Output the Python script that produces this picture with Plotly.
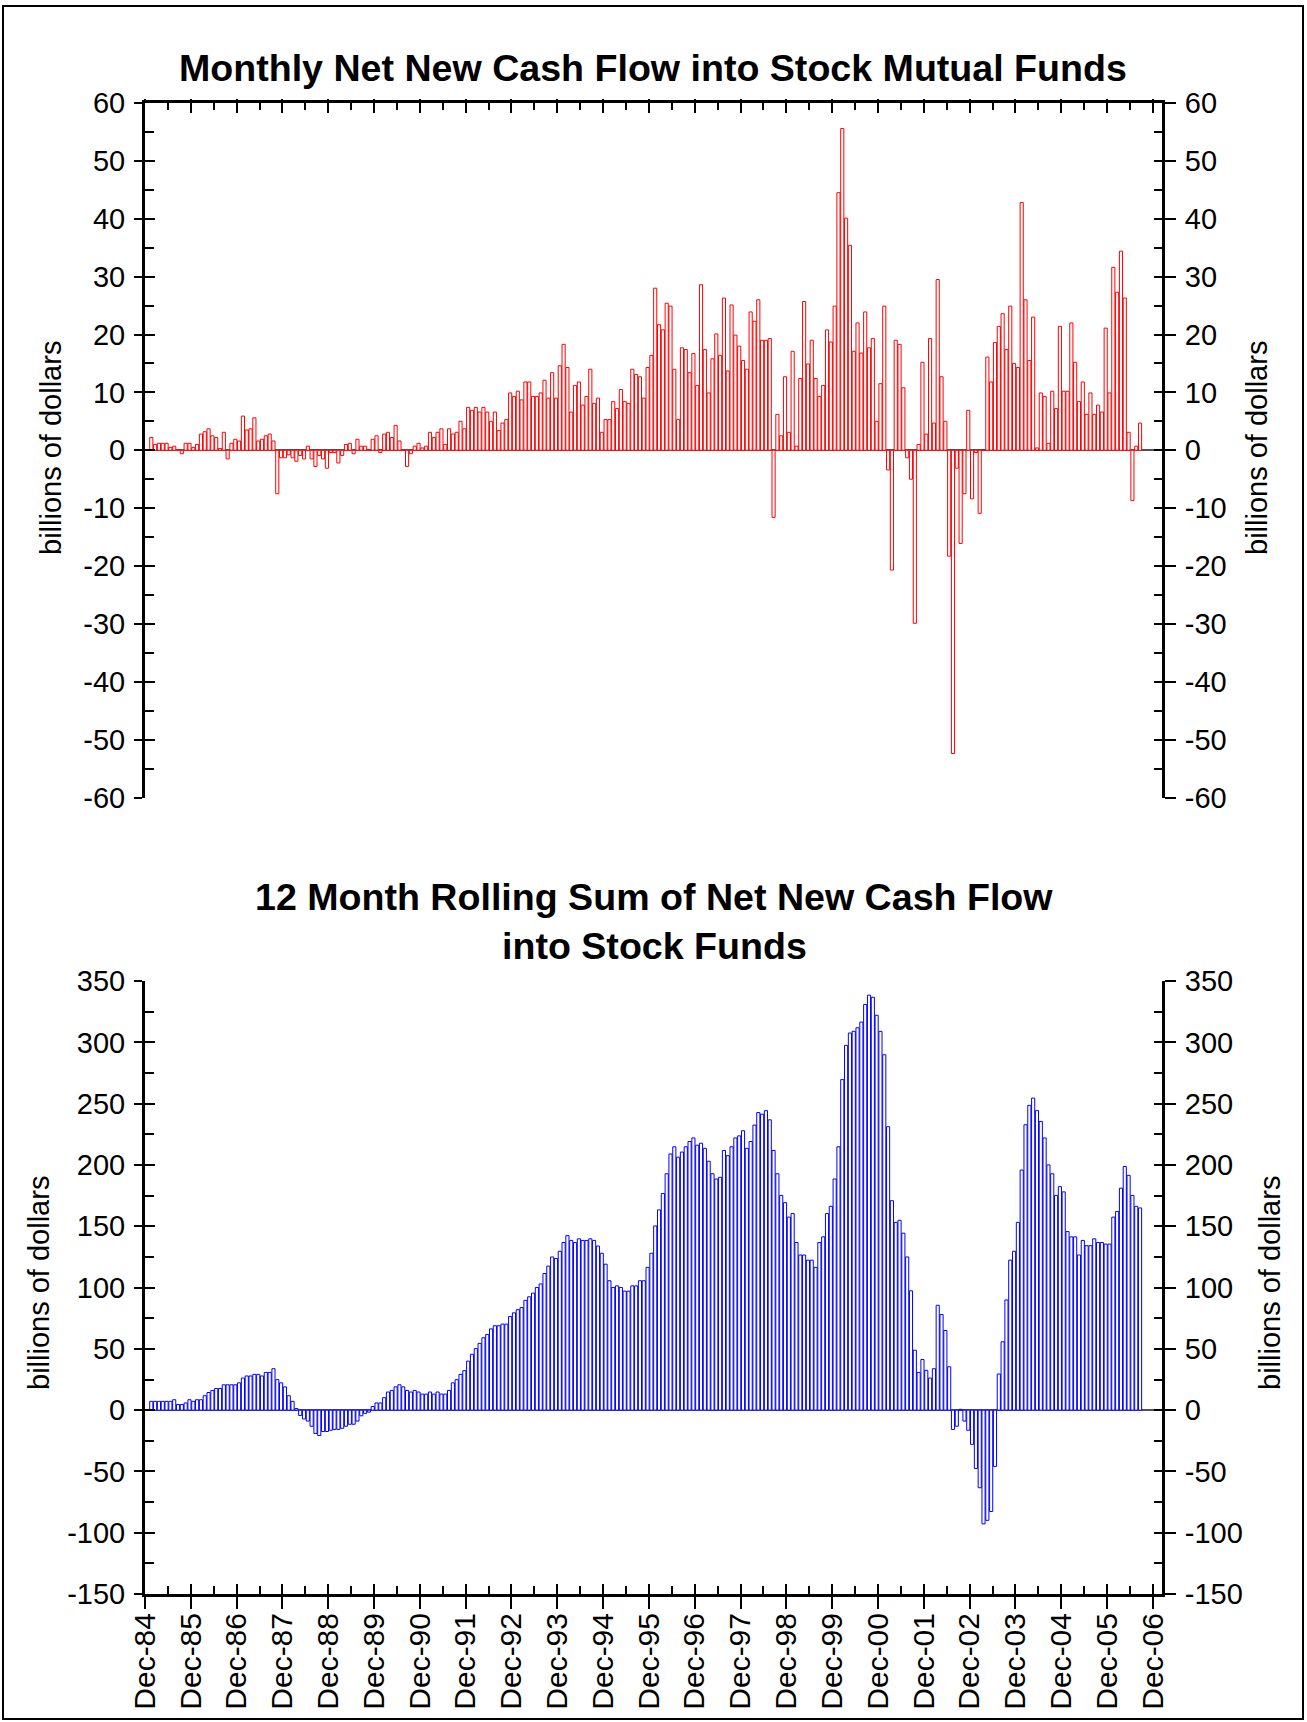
import plotly.graph_objects as go
import pandas as pd

# ---------------- data (billions of dollars), Jan-85 .. Aug-06 ----------------
months = pd.period_range("1985-01", "2006-08", freq="M")

monthly_flow = [
    2.2, 1.0, 1.2, 1.2, 1.2, 0.5, 0.7, 0.1, -0.6, 1.2,
    1.2, 0.5, 1.0, 2.8, 3.2, 3.7, 2.5, 2.2, 0.3, 3.1,
    -1.5, 1.2, 1.9, 1.6, 5.9, 3.5, 3.7, 5.6, 1.6, 1.9,
    2.5, 2.8, 1.6, -7.5, -1.3, -1.3, -0.8, -1.3, -1.9, -0.9,
    -1.5, 0.7, -1.5, -2.8, -0.9, -1.5, -3.1, -0.4, -0.4, -2.2,
    -0.9, 1.0, 1.2, -0.6, 1.9, 0.7, 0.7, 0.1, 1.9, 2.5,
    -0.4, 2.8, 3.1, 2.2, 4.3, 1.6, 0.1, -2.8, -0.6, 0.7,
    1.2, 0.4, 0.7, 3.1, 2.2, 3.1, 3.7, 1.0, 3.7, 2.8,
    3.1, 5.0, 3.7, 7.4, 6.9, 7.4, 6.6, 7.4, 6.6, 5.0,
    6.6, 3.4, 4.7, 5.3, 9.9, 9.3, 10.2, 8.7, 11.8, 11.8,
    9.3, 9.3, 9.9, 12.1, 9.0, 13.4, 9.0, 14.6, 18.3, 14.3,
    6.6, 11.2, 11.8, 7.8, 9.3, 14.0, 8.1, 9.0, 3.1, 5.3,
    5.3, 8.4, 7.2, 10.5, 8.4, 8.1, 14.0, 13.1, 12.7, 9.0,
    14.3, 16.4, 28.0, 21.7, 20.8, 25.4, 24.9, 14.0, 5.3, 17.7,
    17.4, 13.4, 16.7, 11.2, 28.6, 17.4, 9.9, 15.8, 20.1, 16.4,
    26.3, 13.7, 25.1, 19.9, 18.0, 15.5, 14.0, 23.9, 22.3, 26.0,
    19.0, 19.0, 19.3, -11.6, 6.2, 2.5, 12.7, 3.1, 17.1, 0.7,
    12.4, 25.7, 14.9, 19.0, 12.4, 9.3, 11.2, 20.8, 18.7, 24.9,
    44.5, 55.6, 40.1, 35.4, 17.1, 22.0, 16.8, 23.9, 17.7, 19.3,
    5.0, 11.5, 24.9, -3.4, -20.7, 19.0, 18.3, 10.8, -1.3, -5.0,
    -29.9, 1.0, 15.2, 2.8, 19.3, 4.7, 29.5, 12.7, 5.0, -18.3,
    -52.4, -3.1, -16.1, -7.5, 6.9, -8.4, -0.4, -10.9, 0.0, 16.1,
    11.8, 18.6, 21.4, 23.6, 17.4, 24.9, 15.0, 14.3, 42.8, 26.0,
    15.5, 23.0, 0.4, 9.9, 9.3, 1.2, 10.2, 7.2, 21.4, 10.2,
    10.2, 22.0, 15.2, 8.4, 11.8, 6.2, 9.9, 6.2, 7.8, 6.6,
    21.1, 9.9, 31.6, 27.3, 34.4, 26.3, 3.1, -8.7, 0.7, 4.7,
]

rolling_12m = [
    7.2, 7.2, 7.2, 7.2, 7.2, 7.2, 8.5, 4.6, 4.6, 5.9,
    8.5, 7.2, 8.5, 8.5, 11.8, 14.4, 16.1, 17.7, 17.7, 20.7,
    20.7, 20.7, 20.7, 22.3, 26.2, 27.9, 27.9, 29.2, 29.2, 27.9,
    30.8, 30.8, 33.8, 24.9, 22.3, 19.0, 11.8, 7.2, 1.3, -4.3,
    -7.2, -8.9, -13.1, -19.0, -20.7, -17.4, -17.4, -16.4, -15.7, -15.7,
    -14.8, -13.1, -11.5, -11.5, -8.9, -4.6, -2.6, -1.6, 3.0, 5.9,
    5.9, 10.2, 14.8, 16.1, 19.0, 20.7, 19.0, 16.1, 14.8, 16.1,
    14.8, 13.1, 13.1, 14.8, 13.1, 14.8, 13.1, 13.1, 16.1, 22.3,
    24.9, 29.2, 32.2, 40.0, 45.6, 50.2, 54.5, 59.1, 61.7, 66.3,
    68.9, 68.9, 70.2, 70.2, 76.4, 79.4, 82.0, 83.7, 89.6, 92.5,
    95.5, 100.1, 103.0, 111.5, 117.5, 125.0, 123.7, 129.6, 136.8, 142.4,
    138.5, 136.8, 139.8, 138.5, 138.5, 139.8, 138.5, 133.9, 128.0, 119.1,
    105.6, 100.1, 101.4, 100.1, 97.1, 97.1, 101.4, 101.4, 105.6, 105.6,
    116.5, 128.0, 150.3, 163.4, 176.8, 192.9, 209.0, 214.9, 206.4, 210.6,
    214.9, 219.2, 222.1, 216.2, 217.8, 213.6, 203.1, 192.9, 188.6, 190.0,
    211.9, 207.7, 214.9, 222.1, 223.8, 228.0, 213.6, 219.2, 232.6, 242.8,
    241.5, 244.4, 236.9, 211.9, 192.9, 175.2, 169.3, 157.5, 160.4, 136.8,
    126.6, 126.6, 122.4, 122.4, 116.5, 136.8, 141.4, 160.4, 166.3, 188.6,
    214.9, 269.7, 297.6, 307.7, 309.1, 312.0, 316.6, 331.0, 338.6, 336.9,
    322.2, 309.1, 290.0, 231.3, 170.9, 153.2, 154.9, 144.4, 125.0, 97.4,
    48.9, 30.8, 41.3, 32.5, 26.2, 33.8, 85.6, 78.1, 65.0, 35.4,
    -15.7, -13.1, 0.7, -8.9, -16.4, -27.9, -47.6, -63.3, -92.8, -89.9,
    -82.7, -45.9, 29.5, 55.8, 89.9, 122.4, 129.6, 153.2, 195.9, 232.9,
    248.7, 254.6, 244.4, 235.6, 222.1, 200.1, 192.9, 175.2, 182.4, 178.1,
    145.7, 141.4, 141.4, 126.6, 138.5, 134.2, 134.2, 139.8, 136.8, 136.8,
    135.5, 135.5, 157.5, 162.1, 181.1, 198.8, 191.6, 175.2, 166.3, 165.0,
]

tick_years = list(range(1984, 2007))
tick_labels = ["Dec-%02d" % (y % 100) for y in tick_years]

top_yticks = list(range(-60, 61, 10))
top_yminor = list(range(-55, 60, 10))
bot_yticks = list(range(-150, 351, 50))
bot_yminor = list(range(-125, 350, 50))

# ---------------- positions on a month axis (0 = Dec-84) ----------------
base = pd.Period("1984-12", freq="M")
xpos = [(m - base).n + 0.65 for m in months]
xmajor = [(pd.Period("%d-12" % y, freq="M") - base).n for y in tick_years]
xminor = [v + 6 for v in xmajor[:-1]]
XR = [0, 266.4]

FONT = "Liberation Sans, Arial, sans-serif"
W, H = 1307, 1722
ML, MR, MT, MB = 145, 145, 103, 128
PW, PH = W - ML - MR, H - MT - MB


def px_x(p):
    return (p - ML) / PW


def px_y(p):
    return (H - MB - p) / PH


top_dom = [px_y(797.5), 1.0]
bot_dom = [0.0, px_y(981.2)]

fig = go.Figure()
fig.add_trace(go.Bar(x=xpos, y=monthly_flow, width=0.82, xaxis="x", yaxis="y",
                     marker=dict(color="white", line=dict(color="#ff0000", width=1)),
                     showlegend=False, hoverinfo="x+y"))
fig.add_trace(go.Bar(x=xpos, y=rolling_12m, width=0.82, xaxis="x2", yaxis="y5",
                     marker=dict(color="white", line=dict(color="#0000ff", width=1)),
                     showlegend=False, hoverinfo="x+y"))

# invisible helpers so that the overlaid tick-only axes get drawn
for xa, ya in [("x", "y2"), ("x", "y3"), ("x", "y4"), ("x4", "y"),
               ("x2", "y6"), ("x2", "y7"), ("x2", "y8"), ("x3", "y5")]:
    fig.add_trace(go.Scatter(x=[XR[0]], y=[0], xaxis=xa, yaxis=ya, mode="markers",
                             marker=dict(opacity=0, size=1), showlegend=False,
                             hoverinfo="skip"))

tickfont = dict(family=FONT, size=29, color="black")
common = dict(showgrid=False, fixedrange=True, tickcolor="black", tickwidth=2)


def yax(dom, rng, tv, mn, side, kind, overlay=None, zero=False):
    d = dict(common, domain=dom, range=rng, side=side, tickmode="array", tickvals=tv,
             ticktext=[str(v) for v in tv],
             zeroline=zero, zerolinecolor="#505050", zerolinewidth=2)
    if overlay:
        d["overlaying"] = overlay
    if kind == "main":
        d.update(showline=True, linecolor="black", linewidth=3, ticks="outside",
                 ticklen=8 if side == "left" else 11, tickfont=tickfont,
                 ticklabelstandoff=3 if side == "left" else 3)
    else:
        d.update(showline=False, ticks="inside", ticklen=10 if side == "left" else 8,
                 showticklabels=False,
                 minor=dict(ticks="inside", ticklen=9 if side == "left" else 8,
                            tickwidth=2, tickcolor="black", tickmode="array", tickvals=mn))
    return d


layout = dict(
    width=W, height=H, margin=dict(l=ML, r=MR, t=MT, b=MB),
    paper_bgcolor="white", plot_bgcolor="white", barmode="overlay",
    font=dict(family=FONT, color="black"),
    # top chart x axis (at top)
    xaxis=dict(common, domain=[0, 1], range=XR, anchor="y", side="top", showline=True,
               linecolor="black", linewidth=3, ticks="inside", ticklen=10,
               tickmode="array", tickvals=xmajor, showticklabels=False, zeroline=False,
               minor=dict(ticks="inside", ticklen=7, tickwidth=2, tickcolor="black",
                          tickmode="array", tickvals=xminor)),
    xaxis4=dict(common, range=XR, anchor="y", side="top", overlaying="x", showline=False,
                ticks="outside", ticklen=3, tickmode="array", tickvals=xmajor,
                showticklabels=False, zeroline=False),
    # bottom chart x axis
    xaxis2=dict(common, domain=[0, 1], range=XR, anchor="y5", side="bottom", showline=True,
                linecolor="black", linewidth=3, ticks="outside", ticklen=12,
                tickmode="array", tickvals=xmajor, ticktext=tick_labels, tickangle=-90,
                ticklabelstandoff=-8,
                tickfont=dict(family=FONT, size=30, color="black"), zeroline=False),
    xaxis3=dict(common, range=XR, anchor="y5", side="bottom", overlaying="x2", showline=False,
                ticks="inside", ticklen=10, tickmode="array", tickvals=xmajor,
                showticklabels=False, zeroline=False,
                minor=dict(ticks="inside", ticklen=8, tickwidth=2, tickcolor="black",
                           tickmode="array", tickvals=xminor)),
    yaxis=yax(top_dom, [-60, 60], top_yticks, top_yminor, "left", "main", zero=True),
    yaxis3=yax(top_dom, [-60, 60], top_yticks, top_yminor, "left", "inner", overlay="y"),
    yaxis2=yax(top_dom, [-60, 60], top_yticks, top_yminor, "right", "main", overlay="y"),
    yaxis4=yax(top_dom, [-60, 60], top_yticks, top_yminor, "right", "inner", overlay="y"),
    yaxis5=yax(bot_dom, [-150, 350], bot_yticks, bot_yminor, "left", "main", zero=True),
    yaxis6=yax(bot_dom, [-150, 350], bot_yticks, bot_yminor, "left", "inner", overlay="y5"),
    yaxis7=yax(bot_dom, [-150, 350], bot_yticks, bot_yminor, "right", "main", overlay="y5"),
    yaxis8=yax(bot_dom, [-150, 350], bot_yticks, bot_yminor, "right", "inner", overlay="y5"),
)
for k in ["yaxis", "yaxis3", "yaxis2", "yaxis4"]:
    layout[k]["anchor"] = "x"
for k in ["yaxis5", "yaxis6", "yaxis7", "yaxis8"]:
    layout[k]["anchor"] = "x2"
fig.update_layout(**layout)

title_font = dict(family=FONT, size=37.6, color="black")
label_font = dict(family=FONT, size=29, color="black")
ann = [
    dict(text="<b>Monthly Net New Cash Flow into Stock Mutual Funds</b>", x=px_x(653), y=px_y(68),
         font=title_font),
    dict(text="<b>12 Month Rolling Sum of Net New Cash Flow</b>", x=px_x(654), y=px_y(897),
         font=title_font),
    dict(text="<b>into Stock Funds</b>", x=px_x(654), y=px_y(946), font=title_font),
    dict(text="billions of dollars", x=px_x(51), y=px_y(448), textangle=-90, font=label_font),
    dict(text="billions of dollars", x=px_x(1257), y=px_y(448), textangle=-90, font=label_font),
    dict(text="billions of dollars", x=px_x(39), y=px_y(1283), textangle=-90, font=label_font),
    dict(text="billions of dollars", x=px_x(1270), y=px_y(1283), textangle=-90, font=label_font),
]
for a in ann:
    a.update(xref="paper", yref="paper", showarrow=False, xanchor="center", yanchor="middle")
fig.update_layout(annotations=ann)

fig.add_shape(type="rect", xref="paper", yref="paper", x0=px_x(3), x1=px_x(1303),
              y0=px_y(1719), y1=px_y(6), line=dict(color="black", width=2),
              fillcolor="rgba(0,0,0,0)", layer="above")

fig.write_html("out.html", config={"displayModeBar": False},
               post_script="document.body.style.margin='0';"
                           "document.body.style.overflow='hidden';")
